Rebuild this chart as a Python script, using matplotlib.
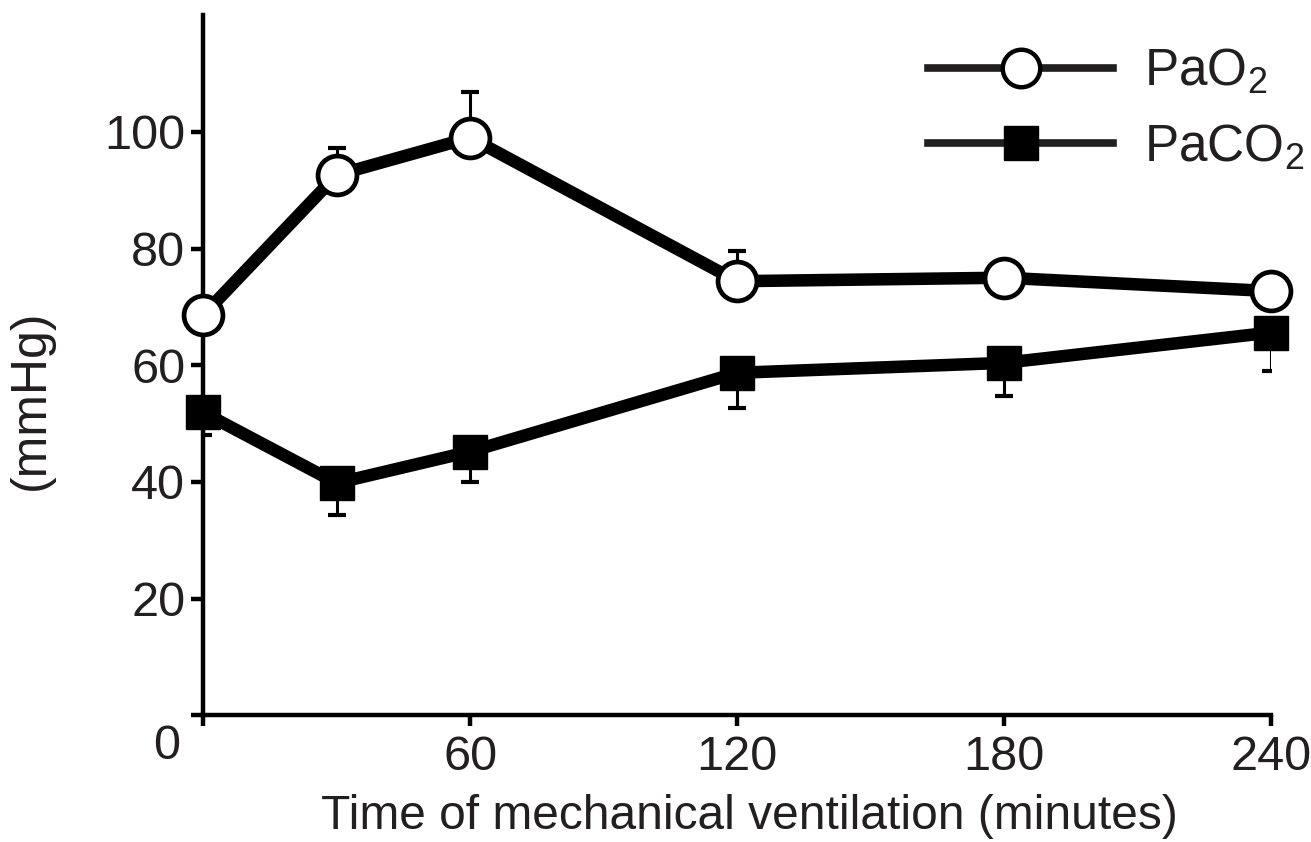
import numpy as np
import matplotlib
matplotlib.use('Agg')
import matplotlib.pyplot as plt
from matplotlib.lines import Line2D

plt.rcParams['font.family'] = ['Liberation Sans', 'DejaVu Sans']
plt.rcParams['mathtext.fontset'] = 'custom'
plt.rcParams['mathtext.rm'] = 'Liberation Sans'
plt.rcParams['mathtext.it'] = 'Liberation Sans'

# data
minutes = [0, 30, 60, 120, 180, 240]
pao2 = [68.6, 92.6, 99.0, 74.4, 75.0, 72.7]
pao2_err_up = [1.5, 4.7, 7.9, 5.1, 1.5, 1.5]
paco2 = [51.9, 39.8, 45.2, 58.7, 60.4, 65.6]
paco2_err_down = [3.8, 5.4, 5.2, 6.1, 5.6, 6.6]

xticks = [0, 60, 120, 180, 240]
xtick_labels = ['', '60', '120', '180', '240']
yticks = [0, 20, 40, 60, 80, 100]
ytick_labels = ['', '20', '40', '60', '80', '100']

txt = '#231f20'

fig = plt.figure(figsize=(13.11, 8.42), dpi=100)
ax = fig.add_axes([0.155, 0.1505, 0.8145, 0.8315])

zeros = [0] * len(minutes)
ax.errorbar(minutes, pao2, yerr=[zeros, pao2_err_up], fmt='none', ecolor='black',
            elinewidth=2.2, capsize=6.5, capthick=3, zorder=2)
ax.errorbar(minutes, paco2, yerr=[paco2_err_down, zeros], fmt='none', ecolor='black',
            elinewidth=2.2, capsize=6.5, capthick=3, zorder=2)

ax.plot(minutes, pao2, color='black', lw=9, marker='o', ms=28, mfc='white',
        mec='black', mew=3.4, zorder=4, clip_on=False)
ax.plot(minutes, paco2, color='black', lw=9, marker='s', ms=24, mfc='black',
        mec='black', mew=1, zorder=3, clip_on=False)

ax.set_xlim(0, 240)
ax.set_ylim(0, 120)
ax.set_xticks(xticks)
ax.set_xticklabels(xtick_labels)
ax.set_yticks(yticks)
ax.set_yticklabels(ytick_labels)

for s in ['top', 'right']:
    ax.spines[s].set_visible(False)
for s in ['left', 'bottom']:
    ax.spines[s].set_linewidth(3.2)
    ax.spines[s].set_color('black')
ax.tick_params(axis='both', direction='out', width=3.2, color='black',
               labelsize=35, labelcolor=txt)
ax.tick_params(axis='y', length=9, pad=4)
ax.tick_params(axis='x', length=8, pad=6)

# the "0" label sits below the origin
ax.text(-0.022, -0.045, '0', transform=ax.transAxes, ha='right', va='center',
        fontsize=35, color=txt)

ax.set_xlabel('Time of mechanical ventilation (minutes)', fontsize=34.5, color=txt)
ax.xaxis.set_label_coords(0.512, -0.112)
ax.set_ylabel('(mmHg)', fontsize=36, color=txt)
ax.yaxis.set_label_coords(-0.14, 0.45)

handles = [
    Line2D([], [], color='#231f20', lw=5.5, marker='o', ms=27, mfc='white', mec='black', mew=3.2),
    Line2D([], [], color='#231f20', lw=5.5, marker='s', ms=24, mfc='black', mec='black'),
]
leg = ax.legend(handles, ['PaO$_2$', 'PaCO$_2$'], loc='upper right',
                bbox_to_anchor=(1.065, 1.005), frameon=False, fontsize=37,
                handlelength=3.6, handletextpad=0.6, labelspacing=0.5,
                borderpad=0.2)
for t in leg.get_texts():
    t.set_color(txt)

fig.savefig('out.png', dpi=100)
